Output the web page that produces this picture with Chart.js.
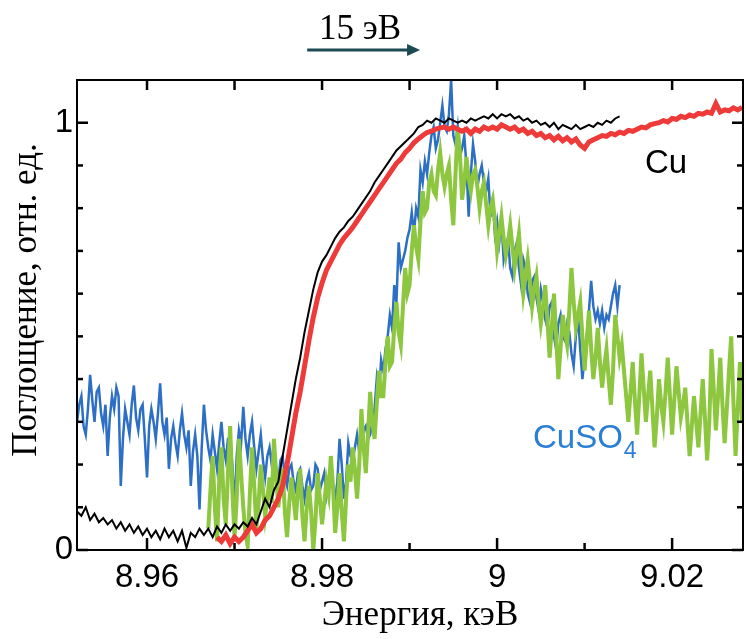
<!DOCTYPE html>
<html>
<head>
<meta charset="utf-8">
<script src="https://cdn.jsdelivr.net/npm/chart.js@4.4.1/dist/chart.umd.min.js"></script>
<style>
  html, body { margin: 0; padding: 0; background: #fff; }
  #wrap { width: 746px; height: 639px; }
</style>
</head>
<body>
<div id="wrap"><canvas id="xanesChart" width="746" height="639"></canvas></div>
<script>
// шаги по энергии, кэВ
const cuStep = 0.0005
const cuso4Step = 0.00025

// Cu, чёрная кривая (8.952 ... 9.014 кэВ)
const cuBlackStart = 8.952
const cuBlack = [
  0.09, 0.08, 0.10, 0.07, 0.085, 0.065, 0.075, 0.06, 0.07, 0.05,
  0.065, 0.045, 0.06, 0.04, 0.055, 0.035, 0.05, 0.03, 0.045, 0.025,
  0.05, 0.03, 0.045, 0.02, 0.045, 0.005, 0.04, 0.03, 0.05, 0.035,
  0.05, 0.03, 0.055, 0.04, 0.06, 0.045, 0.06, 0.05, 0.065, 0.055,
  0.075, 0.06, 0.09, 0.12, 0.10, 0.14, 0.16, 0.22, 0.28, 0.34,
  0.40, 0.45, 0.51, 0.56, 0.61, 0.65, 0.675, 0.69, 0.71, 0.73,
  0.745, 0.755, 0.77, 0.78, 0.795, 0.81, 0.825, 0.84, 0.86, 0.875,
  0.89, 0.905, 0.92, 0.935, 0.945, 0.955, 0.965, 0.975, 0.99, 0.995,
  1.005, 1.0, 1.01, 1.005, 1.0, 1.01, 1.005, 1.0, 1.005, 1.0,
  1.01, 1.005, 1.01, 1.015, 1.01, 1.02, 1.01, 1.02, 1.015, 1.02,
  1.01, 1.015, 1.005, 1.01, 1.0, 1.005, 0.995, 1.0, 0.99, 1.0,
  0.985, 0.995, 0.99, 0.985, 0.995, 0.985, 0.99, 0.995, 0.99, 1.0,
  0.995, 1.005, 1.0, 1.01, 1.015
]

// Cu, красная кривая (8.968 ... 9.028 кэВ)
const cuRedStart = 8.968
const cuRed = [
  0.03, 0.02, 0.035, 0.015, 0.03, 0.02, 0.03, 0.045, 0.06, 0.04,
  0.05, 0.07, 0.08, 0.10, 0.12, 0.15, 0.20, 0.26, 0.32, 0.37,
  0.43, 0.49, 0.545, 0.59, 0.625, 0.655, 0.675, 0.695, 0.715, 0.73,
  0.742, 0.755, 0.77, 0.785, 0.80, 0.815, 0.83, 0.845, 0.86, 0.875,
  0.89, 0.905, 0.915, 0.93, 0.94, 0.953, 0.962, 0.97, 0.977, 0.98,
  0.985, 0.988, 0.99, 0.985, 0.99, 0.985, 0.98, 0.985, 0.975, 0.985,
  0.98, 0.99, 0.985, 0.99, 0.985, 0.995, 0.99, 0.985, 0.99, 0.98,
  0.985, 0.975, 0.98, 0.97, 0.975, 0.965, 0.97, 0.96, 0.968, 0.958,
  0.965, 0.955, 0.962, 0.948, 0.94, 0.955, 0.96, 0.965, 0.97, 0.968,
  0.975, 0.972, 0.978, 0.975, 0.982, 0.98, 0.985, 0.99, 0.988, 0.995,
  0.998, 1.0, 1.005, 1.002, 1.01, 1.008, 1.015, 1.012, 1.018, 1.015,
  1.022, 1.02, 1.025, 1.022, 1.045, 1.025, 1.03, 1.028, 1.035, 1.03,
  1.036
]

// CuSO4, синяя кривая (8.952 ... 9.014 кэВ)
const cuso4BlueStart = 8.952
const cuso4Blue = [
  0.30, 0.34, 0.36, 0.29, 0.27, 0.33, 0.41, 0.35, 0.30, 0.37,
  0.38, 0.32, 0.29, 0.34, 0.22, 0.31, 0.36, 0.33, 0.38, 0.36,
  0.15, 0.26, 0.33, 0.30, 0.27, 0.34, 0.385, 0.31, 0.28, 0.33,
  0.34, 0.26, 0.17, 0.29, 0.33, 0.30, 0.26, 0.32, 0.39, 0.30,
  0.27, 0.31, 0.19, 0.26, 0.29, 0.25, 0.22, 0.28, 0.32, 0.27,
  0.24, 0.28, 0.15, 0.23, 0.27, 0.22, 0.095, 0.24, 0.34, 0.28,
  0.24, 0.21, 0.27, 0.23, 0.19, 0.25, 0.30, 0.24, 0.21, 0.26,
  0.26, 0.20, 0.095, 0.22, 0.28, 0.25, 0.335, 0.26, 0.22, 0.27,
  0.30, 0.24, 0.19, 0.23, 0.27, 0.21, 0.17, 0.22, 0.24, 0.20,
  0.25, 0.19, 0.16, 0.21, 0.22, 0.17, 0.15, 0.19, 0.20, 0.16,
  0.14, 0.18, 0.19, 0.15, 0.12, 0.16, 0.18, 0.14, 0.15, 0.20,
  0.19, 0.14, 0.16, 0.18, 0.13, 0.17, 0.19, 0.15, 0.12, 0.16,
  0.26, 0.20, 0.12, 0.16, 0.25, 0.22, 0.21, 0.24, 0.27, 0.23,
  0.25, 0.28, 0.29, 0.26, 0.27, 0.30, 0.33, 0.40, 0.36, 0.445,
  0.42, 0.47, 0.50, 0.55, 0.52, 0.62, 0.58, 0.72, 0.66, 0.68,
  0.70, 0.73, 0.75, 0.79, 0.74, 0.80, 0.78, 0.89, 0.86, 0.91,
  0.88, 0.93, 0.97, 0.99, 0.94, 0.96, 1.0, 1.04, 0.99, 0.98,
  1.02, 1.1, 0.97, 0.95, 0.99, 0.92, 0.94, 0.97, 0.90, 0.78,
  0.88, 0.95, 0.91, 0.85, 0.88, 0.90, 0.86, 0.84, 0.87, 0.78,
  0.82, 0.74, 0.77, 0.72, 0.77, 0.68, 0.71, 0.73, 0.66, 0.64,
  0.70, 0.72, 0.66, 0.62, 0.68, 0.66, 0.60, 0.58, 0.63, 0.64,
  0.59, 0.56, 0.61, 0.58, 0.54, 0.52, 0.57, 0.58, 0.50, 0.47,
  0.53, 0.55, 0.50, 0.49, 0.53, 0.51, 0.46, 0.43, 0.50, 0.55,
  0.47, 0.40, 0.45, 0.50, 0.56, 0.63, 0.57, 0.54, 0.56, 0.53,
  0.56, 0.52, 0.55, 0.54, 0.57, 0.60, 0.62, 0.57, 0.62
]

// CuSO4, зелёная кривая (8.967 ... 9.028 кэВ)
const cuso4GreenStart = 8.967
const cuso4Green = [
  0.05, 0.14, 0.22, 0.10, 0.02, 0.16, 0.24, 0.12, 0.06, 0.18,
  0.29, 0.14, 0.03, 0.12, 0.26, 0.18, 0.10, 0.04, 0.01, 0.13,
  0.24, 0.15, 0.05, 0.11, 0.20, 0.14, 0.08, 0.12, 0.17, 0.11,
  0.26, 0.18, 0.10, 0.15, 0.19, 0.09, 0.03, 0.11, 0.17, 0.12,
  0.07, 0.14, 0.19, 0.08, 0.02, 0.10, 0.15, 0.09, 0.0, 0.07,
  0.18, 0.12, 0.06, 0.11, 0.16, 0.13, 0.22, 0.15, 0.04, 0.10,
  0.18, 0.09, 0.02, 0.12, 0.20, 0.16, 0.24, 0.19, 0.12, 0.20,
  0.33, 0.24, 0.18, 0.27, 0.37, 0.30, 0.26, 0.34, 0.42, 0.36,
  0.36, 0.44, 0.50, 0.43, 0.44, 0.52, 0.58, 0.51, 0.48, 0.57,
  0.66, 0.60, 0.62, 0.70, 0.76, 0.71, 0.68, 0.77, 0.84, 0.79,
  0.80, 0.86, 0.88, 0.84, 0.83, 0.89, 0.93, 0.88, 0.85, 0.88,
  0.90, 0.82, 0.76, 0.88, 0.99, 0.93, 0.82, 0.86, 0.92, 0.87,
  0.84, 0.88, 0.89, 0.85, 0.80, 0.84, 0.86, 0.81, 0.76, 0.80,
  0.82, 0.77, 0.70, 0.74, 0.78, 0.73, 0.69, 0.72, 0.76, 0.71,
  0.66, 0.70, 0.74, 0.67, 0.60, 0.64, 0.68, 0.63, 0.57, 0.61,
  0.64, 0.58, 0.53, 0.57, 0.62, 0.54, 0.45, 0.52, 0.60, 0.50,
  0.40, 0.47, 0.55, 0.51, 0.48, 0.56, 0.66, 0.58, 0.52, 0.55,
  0.58, 0.50, 0.42, 0.49, 0.56, 0.47, 0.40, 0.45, 0.52, 0.44,
  0.38, 0.43, 0.47, 0.40, 0.34, 0.42, 0.55, 0.50, 0.45, 0.48,
  0.42, 0.36, 0.30, 0.37, 0.44, 0.35, 0.27, 0.36, 0.46, 0.38,
  0.30, 0.36, 0.42, 0.33, 0.24, 0.31, 0.40, 0.34, 0.30, 0.37,
  0.45, 0.36, 0.27, 0.35, 0.43, 0.37, 0.31, 0.34, 0.38, 0.30,
  0.22, 0.29, 0.36, 0.30, 0.24, 0.32, 0.40, 0.31, 0.21, 0.30,
  0.47, 0.38, 0.28, 0.36, 0.45, 0.34, 0.25, 0.33, 0.42, 0.50,
  0.35, 0.22, 0.33, 0.44, 0.30
]

// оси
const xMin = 8.952
const xMax = 9.0281
const yMin = 0
const yMax = 1.1
const xLabelTicks = [8.96, 8.98, 9, 9.02]
const xMinorTicks = [8.97, 8.99, 9.01]
const yLabelTicks = [0, 1]
const yMinorTicks = [0.1, 0.2, 0.3, 0.4, 0.5, 0.6, 0.7, 0.8, 0.9]

// стрелка «15 эВ» (энергии начала и конца)
const arrowFrom = 8.9783
const arrowTo = 8.9912

function toPoints(start, step, values) {
  return values.map((v, i) => ({ x: +(start + i * step).toFixed(5), y: v }))
}

const framePlugin = {
  id: 'frame',
  beforeDraw(chart) {
    const ctx = chart.ctx
    ctx.save()
    ctx.fillStyle = '#fff'
    ctx.fillRect(0, 0, chart.width, chart.height)
    ctx.restore()
  },
  afterDraw(chart) {
    const { ctx, chartArea: a, scales: { x, y } } = chart
    ctx.save()
    ctx.strokeStyle = '#000'
    ctx.lineWidth = 2
    ctx.strokeRect(a.left, a.top, a.right - a.left, a.bottom - a.top)

    const seg = (x1, y1, x2, y2) => {
      ctx.beginPath()
      ctx.moveTo(x1, y1)
      ctx.lineTo(x2, y2)
      ctx.stroke()
    }
    ctx.lineWidth = 2.5
    xLabelTicks.forEach(v => {
      const px = x.getPixelForValue(v)
      seg(px, a.bottom, px, a.bottom - 12)
      seg(px, a.top, px, a.top + 10)
    })
    xMinorTicks.forEach(v => {
      const px = x.getPixelForValue(v)
      seg(px, a.bottom, px, a.bottom - 7)
      seg(px, a.top, px, a.top + 10)
    })
    yLabelTicks.forEach(v => {
      const py = y.getPixelForValue(v)
      seg(a.left, py, a.left + 11, py)
      seg(a.right, py, a.right - 11, py)
    })
    yMinorTicks.forEach(v => {
      const py = y.getPixelForValue(v)
      seg(a.left, py, a.left + 6, py)
      seg(a.right, py, a.right - 6, py)
    })

    // подписи кривых
    ctx.fillStyle = '#000'
    ctx.font = '33px "Liberation Sans", Arial, sans-serif'
    ctx.textAlign = 'left'
    ctx.textBaseline = 'alphabetic'
    ctx.fillText('Cu', x.getPixelForValue(9.0169), y.getPixelForValue(0.883))

    ctx.fillStyle = '#2a7fd4'
    const sx = x.getPixelForValue(9.0041)
    const sy = y.getPixelForValue(0.239)
    ctx.fillText('CuSO', sx, sy)
    const w = ctx.measureText('CuSO').width
    ctx.font = '23px "Liberation Sans", Arial, sans-serif'
    ctx.fillText('4', sx + w + 1, sy + 10)

    // стрелка 15 эВ
    const ax1 = x.getPixelForValue(arrowFrom)
    const ax2 = x.getPixelForValue(arrowTo)
    const ay = 50
    ctx.strokeStyle = '#1c4a52'
    ctx.fillStyle = '#1c4a52'
    ctx.lineWidth = 3
    seg(ax1, ay, ax2 - 10, ay)
    ctx.beginPath()
    ctx.moveTo(ax2, ay)
    ctx.lineTo(ax2 - 13, ay - 6)
    ctx.lineTo(ax2 - 13, ay + 6)
    ctx.closePath()
    ctx.fill()

    ctx.fillStyle = '#000'
    ctx.font = '35px "Liberation Serif", "Times New Roman", serif'
    ctx.textAlign = 'center'
    ctx.fillText('15 эВ', 360, 39)

    // подписи осей
    ctx.fillText('Энергия, кэВ', 420, 625)
    ctx.translate(36, 300)
    ctx.rotate(-Math.PI / 2)
    ctx.fillText('Поглощение, отн. ед.', 0, 0)
    ctx.restore()
  }
}

new Chart(document.getElementById('xanesChart'), {
  type: 'line',
  data: {
    datasets: [
      {
        label: 'Cu',
        data: toPoints(cuBlackStart, cuStep, cuBlack),
        borderColor: '#000000',
        borderWidth: 2,
        order: 1
      },
      {
        label: 'Cu (2)',
        data: toPoints(cuRedStart, cuStep, cuRed),
        borderColor: '#ef3a3a',
        borderWidth: 5,
        order: 2
      },
      {
        label: 'CuSO4 (2)',
        data: toPoints(cuso4GreenStart, cuso4Step, cuso4Green),
        borderColor: '#8dc63f',
        borderWidth: 4,
        order: 3
      },
      {
        label: 'CuSO4',
        data: toPoints(cuso4BlueStart, cuso4Step, cuso4Blue),
        borderColor: '#2c6fc4',
        borderWidth: 2.5,
        order: 4
      }
    ]
  },
  options: {
    responsive: false,
    animation: false,
    parsing: false,
    elements: {
      point: { radius: 0 },
      line: { tension: 0, borderJoinStyle: 'miter' }
    },
    layout: { padding: { top: 80, right: 3, left: 0, bottom: 0 } },
    plugins: {
      legend: { display: false },
      tooltip: { enabled: false }
    },
    scales: {
      x: {
        type: 'linear',
        min: xMin,
        max: xMax,
        afterBuildTicks: axis => { axis.ticks = xLabelTicks.map(v => ({ value: v })) },
        afterFit: axis => { axis.height = 89 },
        grid: { display: false, drawTicks: false },
        border: { display: false },
        ticks: {
          autoSkip: false,
          maxRotation: 0,
          padding: 8,
          color: '#000',
          font: { family: '"Liberation Sans", Arial, sans-serif', size: 33 },
          callback: v => String(v)
        }
      },
      y: {
        type: 'linear',
        min: yMin,
        max: yMax,
        afterBuildTicks: axis => { axis.ticks = yLabelTicks.map(v => ({ value: v })) },
        afterFit: axis => { axis.width = 77 },
        grid: { display: false, drawTicks: false },
        border: { display: false },
        ticks: {
          padding: 4,
          color: '#000',
          font: { family: '"Liberation Sans", Arial, sans-serif', size: 33 },
          callback: v => String(v)
        }
      }
    }
  },
  plugins: [framePlugin]
})
</script>
</body>
</html>
